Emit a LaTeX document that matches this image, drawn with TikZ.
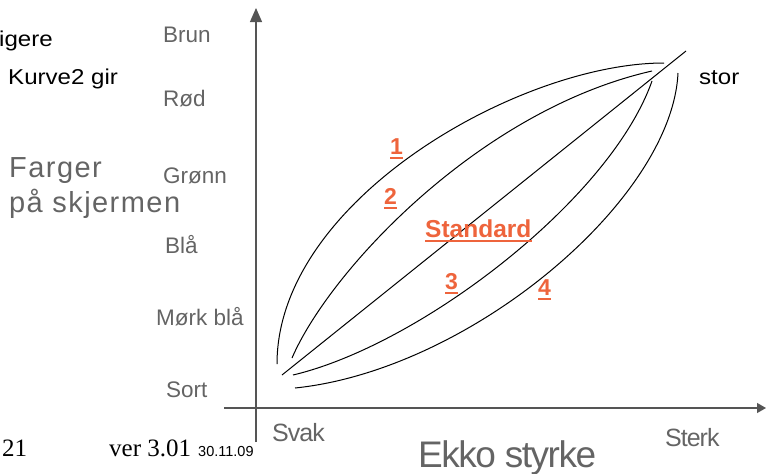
\documentclass[tikz,border=0pt]{standalone}
\usepackage{fontspec}
\setmainfont{Liberation Sans}
\newfontfamily\serifface{Liberation Serif}
\newfontfamily\wideface[LetterSpace=5]{Liberation Sans}
\newfontfamily\tightface[LetterSpace=-4]{Liberation Sans}
\newfontfamily\stretchface[FakeStretch=1.12]{Liberation Sans}
\usetikzlibrary{arrows.meta}
\definecolor{labelgray}{RGB}{100,100,100}
\definecolor{axisgray}{RGB}{85,85,85}
\definecolor{tagorange}{RGB}{238,100,60}

\begin{document}
\begin{tikzpicture}[x=1pt,y=-1pt,
    colour/.style={anchor=base west,inner sep=0pt,text=labelgray,font=\fontsize{22.5}{26}\selectfont},
    title/.style={anchor=base west,inner sep=0pt,text=labelgray},
    blacktext/.style={anchor=base west,inner sep=0pt,font=\stretchface\fontsize{21.5}{25}\selectfont},
    tag/.style={anchor=base west,inner sep=0pt,text=tagorange,font=\bfseries\fontsize{23}{27}\selectfont},
    tagline/.style={draw=tagorange,line width=2pt},
    axis/.style={draw=axisgray,line width=1.2pt},
    curve/.style={line width=1pt}]
    \useasboundingbox (0,0) rectangle (766,474);
    % axes
    \coordinate (ybot) at (256,442);
    \coordinate (ytop) at (256,8);
    \coordinate (xleft) at (224,408);
    \coordinate (xright) at (766,408);
    \draw[axis,-{Triangle[length=14pt,width=12pt]}] (ybot) -- (ytop);
    \draw[axis,-{Triangle[length=9pt,width=10pt]}] (xleft) -- (xright);
    % colour scale
    \node[colour] (brun) at (163,42) {Brun};
    \node[colour] (rod) at (163,106) {Rød};
    \node[colour] (gronn) at (163,183) {Grønn};
    \node[colour] (blaa) at (165,253) {Blå};
    \node[colour] (morkblaa) at (156,325) {Mørk blå};
    \node[colour] (sort) at (166,397) {Sort};
    \node[title,font=\wideface\fontsize{29}{34}\selectfont] (farger) at (9,177) {Farger};
    \node[title,font=\wideface\fontsize{29}{34}\selectfont] (skjerm) at (9,212) {på skjermen};
    \node[title,font=\tightface\fontsize{25}{30}\selectfont] (svak) at (272,441) {Svak};
    \node[title,font=\tightface\fontsize{25}{30}\selectfont] (sterk) at (665,446) {Sterk};
    \node[title,font=\tightface\fontsize{37}{42}\selectfont] (ekko) at (418,467) {Ekko styrke};
    % other text
    \node[blacktext] (igere) at (-1,46) {igere};
    \node[blacktext] (kurve) at (8,84) {Kurve2 gir};
    \node[blacktext] (stor) at (699,84) {stor};
    \node[anchor=base west,inner sep=0pt,font=\serifface\fontsize{25}{30}\selectfont] (side) at (2,456) {21};
    \node[anchor=base west,inner sep=0pt,font=\serifface\fontsize{25}{30}\selectfont] (ver) at (109,456) {ver 3.01};
    \node[anchor=base west,inner sep=0pt,font=\fontsize{14.5}{17}\selectfont] (dato) at (198,456) {30.11.09};
    % curves
    \draw[curve] (277,364) .. controls (277,200) and (520,63) .. (664,63);
    \draw[curve] (292,358) .. controls (330,270) and (480,110) .. (652,71);
    \draw[curve] (282,375) -- (686,51);
    \draw[curve] (293,375) .. controls (420,345) and (610,200) .. (652,81);
    \draw[curve] (295,388) .. controls (470,370) and (672,200) .. (678,73);
    % curve labels
    \node[tag] (one) at (390,154) {1};
    \node[tag] (two) at (384,204) {2};
    \node[tag,font=\bfseries\fontsize{24.5}{28}\selectfont] (std) at (425,237) {Standard};
    \node[tag] (three) at (445,289) {3};
    \node[tag] (four) at (538,295) {4};
    \draw[tagline] ([yshift=-3.5pt]one.base west) -- ([yshift=-3.5pt]one.base east);
    \draw[tagline] ([yshift=-3.5pt]two.base west) -- ([yshift=-3.5pt]two.base east);
    \draw[tagline] ([yshift=-3.5pt]std.base west) -- ([yshift=-3.5pt]std.base east);
    \draw[tagline] ([yshift=-3.5pt]three.base west) -- ([yshift=-3.5pt]three.base east);
    \draw[tagline] ([yshift=-3.5pt]four.base west) -- ([yshift=-3.5pt]four.base east);
\end{tikzpicture}
\end{document}
